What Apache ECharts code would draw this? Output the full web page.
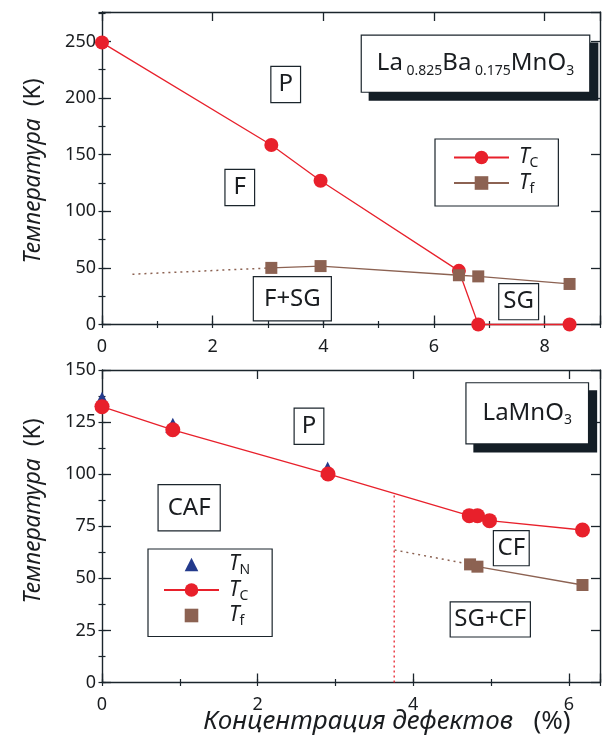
<!DOCTYPE html>
<html><head><meta charset="utf-8">
<script src="https://cdn.jsdelivr.net/npm/echarts@6/dist/echarts.min.js"></script>
<style>html,body{margin:0;padding:0;background:#fff}#c{width:604px;height:749px}</style>
</head><body><div id="c"></div>
<script>
// ---------- data: top panel (La0.825Ba0.175MnO3) ----------
const topTcX = [0, 3.06, 3.95, 6.45, 6.8, 8.45];
const topTc  = [249, 158.5, 127, 47.4, 0, 0];
const topTfX = [3.06, 3.95, 6.45, 6.8, 8.45];
const topTf  = [50, 51.6, 43.5, 42.5, 35.8];
const topTfDotX = [0.55, 3.06];
const topTfDot  = [44.4, 50];
// ---------- data: bottom panel (LaMnO3) ----------
const botTNX = [0, 0.91, 2.9];
const botTN  = [136, 123.5, 102.5];
const botTcX = [0, 0.91, 2.905, 4.72, 4.825, 4.98, 6.175];
const botTc  = [132.4, 121.3, 100.1, 80.1, 80.1, 77.7, 73.2];
const botTfX = [4.73, 4.825, 6.175];
const botTf  = [56.7, 55.6, 46.8];
const botTfDotX = [3.76, 4.73];
const botTfDot  = [63.6, 56.7];
const botVX = [3.755, 3.755];
const botV  = [0, 90.8];
// ---------- axes ----------
const topXTicks = [0, 2, 4, 6, 8];
const topYTicks = [0, 50, 100, 150, 200, 250];
const botXTicks = [0, 2, 4, 6];
const botYTicks = [0, 25, 50, 75, 100, 125, 150];
// ---------- region labels ----------
const topBoxes = [['P', 3.32, 212], ['F', 2.49, 121], ['F+SG', 3.44, 22.8], ['SG', 7.53, 20.2]];
const botBoxes = [['P', 2.66, 123], ['CAF', 1.12, 83.9], ['CF', 5.26, 64.5], ['SG+CF', 4.99, 30.3]];

const FONT = '"Noto Sans", sans-serif';
const AXC = '#1b252c';
const TXT = '#1a1d20';
const RED = '#e8202b';
const BROWN = '#8c6252';
const NAVY = '#233a8c';
const pts = (xs, ys) => xs.map((x, i) => [x, ys[i]]);

function axisSet(grid, dim, min, max, ticks, minorInt) {
  const major = ticks[1] - ticks[0];
  const lab = v => ticks.some(t => Math.abs(t - v) < 1e-9) ? String(v) : '';
  const posA = dim === 'x' ? 'bottom' : 'left';
  const posB = dim === 'x' ? 'top' : 'right';
  const base = {gridIndex: grid, type: 'value', min: min, max: max, splitLine: {show: false}};
  const line = {show: true, onZero: false, lineStyle: {color: AXC, width: 1.4}};
  return [
    Object.assign({}, base, {position: posA, interval: major, axisLine: line,
      axisTick: {show: true, inside: true, length: 9, lineStyle: {color: AXC, width: 1.3}},
      axisLabel: {show: true, margin: dim === 'x' ? 13 : 6, fontSize: 18, fontFamily: FONT, color: TXT, formatter: lab}}),
    Object.assign({}, base, {position: posB, interval: major, axisLine: line,
      axisTick: {show: true, inside: true, length: 9, lineStyle: {color: AXC, width: 1.3}},
      axisLabel: {show: false}}),
    Object.assign({}, base, {position: posA, interval: minorInt, axisLine: {show: false},
      axisTick: {show: true, inside: true, length: 3.5, lineStyle: {color: AXC, width: 1.2}},
      axisLabel: {show: false}}),
    Object.assign({}, base, {position: posB, interval: minorInt, axisLine: {show: false},
      axisTick: {show: true, inside: true, length: 3.5, lineStyle: {color: AXC, width: 1.2}},
      axisLabel: {show: false}})
  ];
}

const xAxes = axisSet(0, 'x', 0, 9, topXTicks, 1).concat(axisSet(1, 'x', 0, 6.4, botXTicks, 1));
const yAxes = axisSet(0, 'y', 0, 276, topYTicks, 25).concat(axisSet(1, 'y', 0, 150, botYTicks, 12.5));

const boxLabel = (txt, pad) => ({
  show: true, position: 'inside', formatter: txt, fontSize: 24, lineHeight: 25,
  fontFamily: FONT, color: TXT, backgroundColor: '#fff', borderColor: AXC, borderWidth: 1.2, padding: pad
});
const pads = {'P': [5, 7], 'F': [5, 8], 'F+SG': [9, 10], 'SG': [5, 4], 'CAF': [10, 9], 'CF': [4.5, 3.5], 'SG+CF': [4.5, 3.5]};
const mp = (arr) => arr.map(b => ({coord: [b[1], b[2]], value: 0, symbol: 'rect', symbolSize: 1,
  itemStyle: {color: 'rgba(0,0,0,0)'}, label: boxLabel(b[0], pads[b[0]])}));

const richSub = {
  m: {fontSize: 24, fontFamily: FONT, color: TXT, lineHeight: 28},
  s: {fontSize: 14, fontFamily: FONT, color: TXT, lineHeight: 14, verticalAlign: 'bottom'}
};
const titleBox = (txt, x, y, pad) => ({coord: [x, y], value: 0, symbol: 'rect', symbolSize: 1,
  itemStyle: {color: 'rgba(0,0,0,0)'},
  label: {show: true, position: 'inside', formatter: txt, rich: richSub, fontFamily: FONT, color: TXT,
    backgroundColor: '#fff', borderColor: AXC, borderWidth: 1.2, padding: pad,
    shadowColor: '#141e26', shadowBlur: 0, shadowOffsetX: 8, shadowOffsetY: 8}});

const legRich = {
  t: {fontSize: 21, fontStyle: 'italic', fontFamily: FONT, color: TXT, lineHeight: 26, padding: [0, 0, 0, 5]},
  s: {fontSize: 14, fontFamily: FONT, color: TXT, lineHeight: 14, verticalAlign: 'bottom'}
};
const legNames = {TC1: '{t|T}{s|C}', Tf1: '{t|T}{s|f}', TN2: '{t|T}{s|N}', TC2: '{t|T}{s|C}', Tf2: '{t|T}{s|f}'};

const yTitleRich = {i: {fontSize: 23, fontStyle: 'italic', fontFamily: FONT, fill: TXT}, n: {fontSize: 23, fontFamily: FONT, fill: TXT}};

const option = {
  animation: false,
  backgroundColor: '#fff',
  grid: [
    {left: 102, top: 12, width: 498, height: 312.5},
    {left: 102, top: 370, width: 498, height: 312.5}
  ],
  xAxis: xAxes,
  yAxis: yAxes,
  legend: [
    {orient: 'vertical', left: 435, top: 139, itemWidth: 55, itemHeight: 17, itemGap: 2,
      padding: [8, 20, 10, 18], borderColor: AXC, borderWidth: 1.2, backgroundColor: '#fff',
      selectedMode: false, data: ['TC1', 'Tf1'], formatter: n => legNames[n], textStyle: {rich: legRich}},
    {orient: 'vertical', left: 148, top: 549, itemWidth: 55, itemHeight: 17, itemGap: 2,
      padding: [5, 22, 8, 15], borderColor: AXC, borderWidth: 1.2, backgroundColor: '#fff',
      selectedMode: false,
      data: [{name: 'TN2', lineStyle: {opacity: 0}}, 'TC2', {name: 'Tf2', lineStyle: {opacity: 0}}],
      formatter: n => legNames[n], textStyle: {rich: legRich}}
  ],
  series: [
    {name: 'dot1', type: 'line', xAxisIndex: 0, yAxisIndex: 0, data: pts(topTfDotX, topTfDot),
      symbol: 'none', lineStyle: {color: BROWN, width: 1.5, type: [2, 4]}, z: 1, silent: true},
    {name: 'TC1', type: 'line', xAxisIndex: 0, yAxisIndex: 0, data: pts(topTcX, topTc), clip: false,
      symbol: 'circle', symbolSize: 14, itemStyle: {color: RED}, lineStyle: {color: RED, width: 1.3}, z: 3,
      markPoint: {data: mp(topBoxes).concat([titleBox('{m|La}{s| 0.825}{m|Ba}{s| 0.175}{m|MnO}{s|3}', 6.75, 230.4, [14, 15])])}},
    {name: 'Tf1', type: 'line', xAxisIndex: 0, yAxisIndex: 0, data: pts(topTfX, topTf), clip: false,
      symbol: 'rect', symbolSize: 12, itemStyle: {color: BROWN}, lineStyle: {color: BROWN, width: 1.3}, z: 4},

    {name: 'vdot2', type: 'line', xAxisIndex: 4, yAxisIndex: 4, data: pts(botVX, botV),
      symbol: 'none', lineStyle: {color: RED, width: 1.3, type: [2, 3]}, z: 1, silent: true},
    {name: 'dot2', type: 'line', xAxisIndex: 4, yAxisIndex: 4, data: pts(botTfDotX, botTfDot),
      symbol: 'none', lineStyle: {color: BROWN, width: 1.5, type: [2, 4]}, z: 1, silent: true},
    {name: 'TN2', type: 'line', xAxisIndex: 4, yAxisIndex: 4, data: pts(botTNX, botTN), clip: false,
      symbol: 'triangle', symbolSize: 15, itemStyle: {color: NAVY}, lineStyle: {opacity: 0, color: NAVY}, z: 2},
    {name: 'TC2', type: 'line', xAxisIndex: 4, yAxisIndex: 4, data: pts(botTcX, botTc), clip: false,
      symbol: 'circle', symbolSize: 15, itemStyle: {color: RED}, lineStyle: {color: RED, width: 1.3}, z: 3,
      markPoint: {data: mp(botBoxes).concat([titleBox('{m|LaMnO}{s|3}', 5.465, 129.2, [16, 16])])}},
    {name: 'Tf2', type: 'line', xAxisIndex: 4, yAxisIndex: 4, data: pts(botTfX, botTf), clip: false,
      symbol: 'rect', symbolSize: 12, itemStyle: {color: BROWN}, lineStyle: {color: BROWN, width: 1.3}, z: 4}
  ],
  graphic: [
    {type: 'text', x: 33, y: 171, rotation: Math.PI / 2, style: {
      text: '{i|Температура}{n|  (K)}', align: 'center', verticalAlign: 'middle', rich: yTitleRich}},
    {type: 'text', x: 33, y: 511, rotation: Math.PI / 2, style: {
      text: '{i|Температура}{n|  (K)}', align: 'center', verticalAlign: 'middle', rich: yTitleRich}},
    {type: 'text', x: 387, y: 722, style: {
      text: '{i|Концентрация дефектов}{n|   (%)}', align: 'center', verticalAlign: 'middle',
      rich: {i: {fontSize: 26, fontStyle: 'italic', fontFamily: FONT, fill: TXT}, n: {fontSize: 26, fontFamily: FONT, fill: TXT}}}}
  ]
};
const chart = echarts.init(document.getElementById('c'), null, {renderer: 'canvas'});
chart.setOption(option);
</script></body></html>
